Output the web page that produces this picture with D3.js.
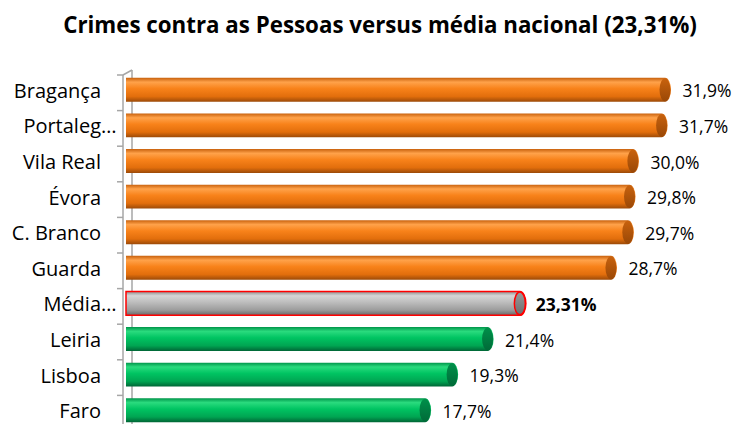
<!DOCTYPE html>
<html>
<head>
<meta charset="utf-8">
<script src="https://cdn.jsdelivr.net/npm/d3@7"></script>
<style>
  html, body { margin: 0; padding: 0; background: #fff; }
  svg { display: block; }
</style>
</head>
<body>
<svg id="chart" width="739" height="424"></svg>
<script>
"use strict";

const title = "Crimes contra as Pessoas versus média nacional (23,31%)";
const categories = ["Bragança", "Portaleg…", "Vila Real", "Évora", "C. Branco", "Guarda", "Média…", "Leiria", "Lisboa", "Faro"];
const values = [31.9, 31.7, 30.0, 29.8, 29.7, 28.7, 23.31, 21.4, 19.3, 17.7];
const valueLabels = ["31,9%", "31,7%", "30,0%", "29,8%", "29,7%", "28,7%", "23,31%", "21,4%", "19,3%", "17,7%"];
const average = 23.31;

const svg = d3.select("#chart");
const fontFamily = "'Open Sans', 'Noto Sans', sans-serif";

// 3D wall geometry: front axis and back wall edge
const axisFront = 123;
const depthX = 9;
const depthY = -5;
const plotTop = 75;
const plotBottom = 431;

const x = d3.scaleLinear()
    .domain([0, 31.9])
    .range([132, 671]);

const y = d3.scaleBand()
    .domain(categories)
    .range([plotTop, plotBottom])
    .paddingInner(0.33)
    .paddingOuter(0.165);

// gradients for the cylinders
const palettes = {
    hi: { stops: ["#C9620E", "#FFA24A", "#F8821A", "#E26E0C", "#9C4A08"], cap: ["#C8620E", "#9A4806"] },
    avg: { stops: ["#8E8E8E", "#D6D6D6", "#BDBDBD", "#9C9C9C", "#676767"], cap: ["#9A9A9A", "#6E6E6E"] },
    lo: { stops: ["#00954A", "#2ADB7E", "#00C462", "#00A552", "#006636"], cap: ["#00904A", "#006A38"] }
};
const offsets = [0, 0.18, 0.45, 0.78, 1];

const defs = svg.append("defs");
Object.keys(palettes).forEach(function (key) {
    const g = defs.append("linearGradient")
        .attr("id", "body-" + key)
        .attr("x1", 0).attr("y1", 0).attr("x2", 0).attr("y2", 1);
    palettes[key].stops.forEach(function (c, i) {
        g.append("stop").attr("offset", offsets[i]).attr("stop-color", c);
    });
    const cg = defs.append("linearGradient")
        .attr("id", "cap-" + key)
        .attr("x1", 0).attr("y1", 0).attr("x2", 0).attr("y2", 1);
    cg.append("stop").attr("offset", 0).attr("stop-color", palettes[key].cap[0]);
    cg.append("stop").attr("offset", 1).attr("stop-color", palettes[key].cap[1]);
});

function group(v) {
    if (v > average) { return "hi"; }
    if (v === average) { return "avg"; }
    return "lo";
}

// title, sized to the width it takes in the original
const titleText = svg.append("text")
    .attr("x", 380)
    .attr("y", 33)
    .attr("text-anchor", "middle")
    .attr("font-family", fontFamily)
    .attr("font-weight", "bold")
    .attr("font-size", 20)
    .attr("fill", "#000")
    .text(title);
const tw = titleText.node().getComputedTextLength();
titleText.attr("font-size", 20 * 634 / tw);

// wall / axis lines
const axisG = svg.append("g").attr("stroke", "#A6A6A6").attr("fill", "none").attr("stroke-width", 1.5);
axisG.append("line")
    .attr("x1", axisFront).attr("x2", axisFront)
    .attr("y1", plotTop).attr("y2", plotBottom);
axisG.append("line")
    .attr("x1", axisFront + depthX).attr("x2", axisFront + depthX)
    .attr("y1", plotTop + depthY).attr("y2", plotBottom);
axisG.append("line")
    .attr("x1", axisFront).attr("x2", axisFront + depthX)
    .attr("y1", plotTop).attr("y2", plotTop + depthY);

const boundaries = categories.map(function (c) {
    return y(c) - y.step() * y.paddingInner() / 2;
});
axisG.selectAll(".tick")
    .data(boundaries)
    .enter()
    .append("line")
    .attr("class", "tick")
    .attr("x1", axisFront - 6).attr("x2", axisFront)
    .attr("y1", function (d) { return d; })
    .attr("y2", function (d) { return d; });

// cylinders
const barShift = -3;
const rx = 6;
const bars = svg.append("g").selectAll(".bar")
    .data(values)
    .enter()
    .append("g")
    .attr("class", "bar");

bars.append("path")
    .attr("d", function (d, i) {
        const top = y(categories[i]) + barShift;
        const h = y.bandwidth();
        const x0 = axisFront + 3;
        const xc = x(d) - rx;
        return "M" + x0 + "," + top +
            "H" + xc +
            "A" + rx + "," + (h / 2) + " 0 0 1 " + xc + "," + (top + h) +
            "H" + x0 + "Z";
    })
    .attr("fill", function (d) { return "url(#body-" + group(d) + ")"; })
    .attr("stroke", function (d) { return group(d) === "avg" ? "#FF0000" : "none"; })
    .attr("stroke-width", 1.5);

bars.append("ellipse")
    .attr("cx", function (d) { return x(d) - rx; })
    .attr("cy", function (d, i) { return y(categories[i]) + barShift + y.bandwidth() / 2; })
    .attr("rx", rx - 0.5)
    .attr("ry", y.bandwidth() / 2 - 0.5)
    .attr("fill", function (d) { return "url(#cap-" + group(d) + ")"; })
    .attr("stroke", function (d) { return group(d) === "avg" ? "#FF0000" : "none"; })
    .attr("stroke-width", 1.5);

// value labels
svg.append("g").selectAll(".val")
    .data(values)
    .enter()
    .append("text")
    .attr("class", "val")
    .attr("x", function (d) { return x(d) + (d === average ? 10 : 11.5); })
    .attr("y", function (d, i) { return y(categories[i]) + barShift + y.bandwidth() / 2 + 7.5; })
    .attr("font-family", fontFamily)
    .attr("font-size", 17.5)
    .attr("font-weight", function (d) { return d === average ? "bold" : "normal"; })
    .attr("fill", "#000")
    .text(function (d, i) { return valueLabels[i]; });

// category labels: text right-aligned, a truncation ellipsis hangs past the edge
const labelEdge = 101;
const cats = svg.append("g").selectAll(".cat")
    .data(categories)
    .enter()
    .append("g")
    .attr("class", "cat")
    .attr("font-family", fontFamily)
    .attr("font-size", 20)
    .attr("fill", "#000");

cats.append("text")
    .attr("x", labelEdge)
    .attr("y", function (d) { return y(d) + y.bandwidth() / 2 + 5; })
    .attr("text-anchor", "end")
    .text(function (d) { return d.replace("…", ""); });

cats.filter(function (d) { return d.endsWith("…"); })
    .append("text")
    .attr("x", labelEdge)
    .attr("y", function (d) { return y(d) + y.bandwidth() / 2 + 5; })
    .text("…");
</script>
</body>
</html>
